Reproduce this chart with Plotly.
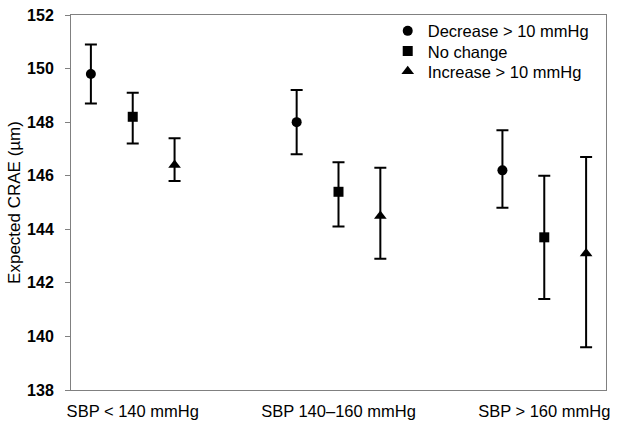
import plotly.graph_objects as go

categories = ["SBP < 140 mmHg", "SBP 140\u2013160 mmHg", "SBP > 160 mmHg"]

series_names = ["Decrease > 10 mmHg", "No change", "Increase > 10 mmHg"]
decrease_mean = [149.8, 148.0, 146.2]
decrease_low = [148.7, 146.8, 144.8]
decrease_high = [150.9, 149.2, 147.7]

nochange_mean = [148.2, 145.4, 143.7]
nochange_low = [147.2, 144.1, 141.4]
nochange_high = [149.1, 146.5, 146.0]

increase_mean = [146.4, 144.5, 143.1]
increase_low = [145.8, 142.9, 139.6]
increase_high = [147.4, 146.3, 146.7]

y_ticks = [138, 140, 142, 144, 146, 148, 150, 152]

FONT = "Arial, Liberation Sans, sans-serif"

series = [
    (series_names[0], decrease_mean, decrease_low, decrease_high, "circle", 10, "legend"),
    (series_names[1], nochange_mean, nochange_low, nochange_high, "square", 10, "legend2"),
    (series_names[2], increase_mean, increase_low, increase_high, "triangle-up", 11, "legend3"),
]

fig = go.Figure()
for name, mean, low, high, sym, sz, lg in series:
    fig.add_trace(go.Scatter(
        x=categories, y=mean, name=name, mode="markers", legend=lg,
        marker=dict(symbol=sym, size=sz, color="black"),
        error_y=dict(type="data", symmetric=False,
                     array=[h - m for h, m in zip(high, mean)],
                     arrayminus=[m - l for m, l in zip(mean, low)],
                     color="black", thickness=2, width=6),
    ))

leg_common = dict(x=0.592, xanchor="left", yanchor="middle",
                  bgcolor="rgba(0,0,0,0)", font=dict(size=16.5))

fig.update_layout(
    width=617, height=427,
    margin=dict(l=71, r=7, t=12, b=35),
    paper_bgcolor="white", plot_bgcolor="white",
    scattermode="group", scattergap=0.39,
    font=dict(family=FONT, size=16.5, color="black"),
    showlegend=True,
    legend=dict(y=0.957, **leg_common),
    legend2=dict(y=0.903, **leg_common),
    legend3=dict(y=0.849, **leg_common),
)
fig.update_xaxes(
    type="category", range=[-0.3, 2.3],
    showline=True, linecolor="#808080", linewidth=1, mirror=True,
    showgrid=False, ticks="", tickfont=dict(size=16.5),
    ticklabelstandoff=6,
)
fig.update_yaxes(
    range=[138, 152], tickvals=y_ticks,
    showline=True, linecolor="#808080", linewidth=1, mirror=True,
    showgrid=False, zeroline=False, ticks="outside", ticklen=5, tickcolor="#808080",
    tickfont=dict(size=16, family=FONT, weight="bold"),
    ticklabelstandoff=8,
    title=dict(text="Expected CRAE (\u00b5m)", font=dict(size=17), standoff=2),
)

fig.write_html("out.html", config={"displayModeBar": False},
               post_script="document.body.style.margin='0';document.body.style.padding='0';")
